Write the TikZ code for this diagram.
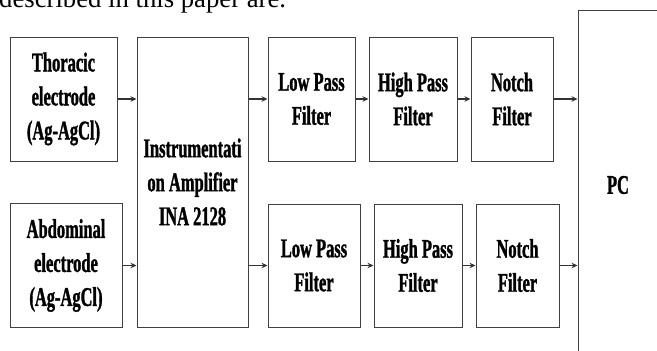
\documentclass[tikz,border=0pt]{standalone}
\usepackage{fontspec}
\setmainfont{Liberation Serif}
\newfontfamily\condfont[FakeStretch=0.61,FakeBold=1.2]{Liberation Serif}
\usetikzlibrary{arrows.meta}

\tikzset{
  blk/.style={draw=black!75, line width=1pt, inner sep=0pt, align=center,
    font=\condfont\bfseries\fontsize{27}{34}\selectfont},
  arr/.style={draw=black!80, line width=1.2pt, -{Stealth[length=6pt,width=5.5pt]}}
}

\begin{document}
\begin{tikzpicture}[x=1pt,y=-1pt]
\clip (0,0) rectangle (657,351);

% caption line cut off at the top
\node[anchor=base west, inner sep=0pt, font=\fontsize{26.7}{30}\selectfont] (cap) at (-1,7) {described in this paper are.};

% electrodes and amplifier
\node[blk, minimum width=107, minimum height=124] (thor) at (63.5,99) {Thoracic\\electrode\\(Ag-AgCl)};
\node[blk, minimum width=112, minimum height=124] (abd) at (66,265.5) {Abdominal\\electrode\\(Ag-AgCl)};
\node[blk, minimum width=111, minimum height=290] (inst) at (192.5,182) {Instrumentati\\on Amplifier\\INA 2128};

% upper filter chain
\node[blk, minimum width=87, minimum height=124] (lpfa) at (311.5,99) {Low Pass\\Filter};
\node[blk, minimum width=88, minimum height=124] (hpfa) at (413,99) {High Pass\\Filter};
\node[blk, minimum width=82, minimum height=124] (ntfa) at (512,99) {Notch\\Filter};

% lower filter chain
\node[blk, minimum width=92, minimum height=123] (lpfb) at (314,265.5) {Low Pass\\Filter};
\node[blk, minimum width=88, minimum height=123] (hpfb) at (418,265.5) {High Pass\\Filter};
\node[blk, minimum width=83, minimum height=123] (ntfb) at (517.5,265.5) {Notch\\Filter};

\node[blk, minimum width=80, minimum height=350] (pc) at (618,185) {PC};

\draw[arr] (thor.east) -- (thor.east -| inst.west);
\draw[arr] (abd.east) -- (abd.east -| inst.west);
\draw[arr] (inst.east |- lpfa.west) -- (lpfa.west);
\draw[arr] (inst.east |- lpfb.west) -- (lpfb.west);
\draw[arr] (lpfa.east) -- (hpfa.west);
\draw[arr] (lpfb.east) -- (hpfb.west);
\draw[arr] (hpfa.east) -- (ntfa.west);
\draw[arr] (hpfb.east) -- (ntfb.west);
\draw[arr] (ntfa.east) -- (ntfa.east -| pc.west);
\draw[arr] (ntfb.east) -- (ntfb.east -| pc.west);
\end{tikzpicture}
\end{document}
